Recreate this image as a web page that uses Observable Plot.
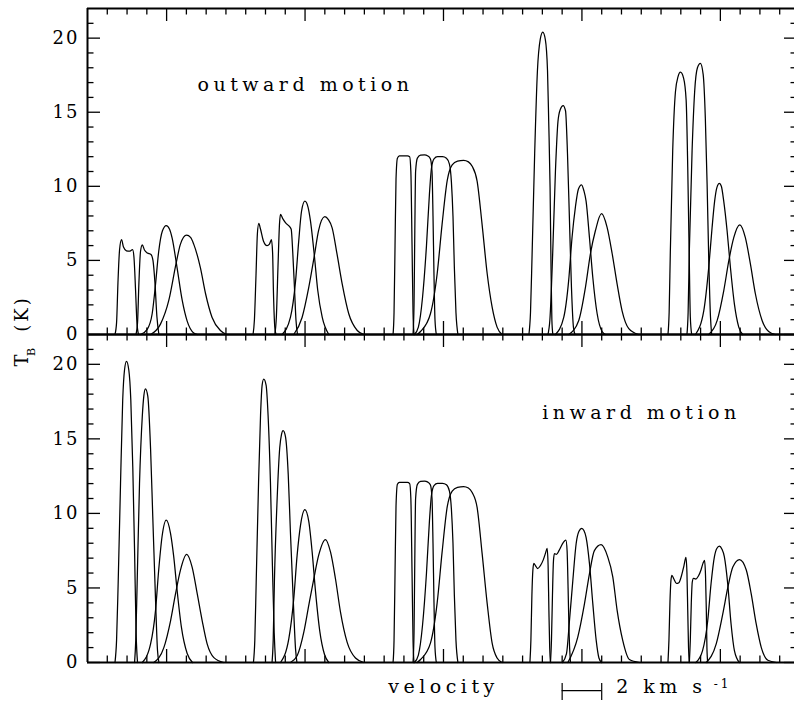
<!DOCTYPE html>
<html><head><meta charset="utf-8">
<script src="https://cdn.jsdelivr.net/npm/d3@7"></script>
<script src="https://cdn.jsdelivr.net/npm/@observablehq/plot@0.6"></script>
<style>
body{margin:0;background:#fff;}
#wrap{position:relative;width:794px;height:704px;}
#wrap svg{position:absolute;left:0;top:0;}
#wrap svg .ticklab text{letter-spacing:2px;}
#wrap svg .ylab text{letter-spacing:3px;}
</style></head><body><div id="wrap"></div>
<script>
// ---- data: velocity (km/s from left edge of the frame), T_B (K) ----
const outward1 = [
 [[1.39,0],[1.47,0.8],[1.54,3.5],[1.62,5.7],[1.72,6.4],[1.82,5.9],[1.97,5.65],[2.12,5.62],[2.28,5.72],[2.35,5.2],[2.43,3.0],[2.50,0.8],[2.58,0]],
 [[2.45,0],[2.53,0.8],[2.60,3.5],[2.68,5.6],[2.77,6.05],[2.88,5.7],[3.03,5.5],[3.21,5.4],[3.31,5.0],[3.41,3.5],[3.51,1.2],[3.61,0]],
 [[2.68,0],[3.02,0.35],[3.27,1.4],[3.44,3.4],[3.60,5.6],[3.79,7.0],[3.98,7.35],[4.15,7.1],[4.28,6.5],[4.53,4.5],[4.79,2.3],[5.04,0.9],[5.37,0.1],[5.56,0]],
 [[3.19,0],[3.69,0.7],[4.11,2.3],[4.48,4.8],[4.70,6.1],[5.01,6.7],[5.21,6.55],[5.37,6.1],[5.71,4.5],[5.97,2.75],[6.30,1.15],[6.72,0.27],[7.03,0]]
];
const outward2 = [
 [[8.37,0],[8.44,1],[8.52,4],[8.59,6.8],[8.66,7.5],[8.75,7.1],[8.90,6.3],[9.08,6.0],[9.20,6.1],[9.30,6.4],[9.36,5.5],[9.40,3],[9.47,0.5],[9.53,0]],
 [[9.47,0],[9.55,1.2],[9.63,4.5],[9.71,7.5],[9.76,8.1],[9.88,7.8],[10.04,7.5],[10.17,7.35],[10.30,7.1],[10.38,5.5],[10.47,3],[10.54,1],[10.62,0]],
 [[9.84,0],[10.26,1.15],[10.52,3.6],[10.68,6.3],[10.82,8.3],[10.99,9.0],[11.15,8.6],[11.27,7.7],[11.48,5.2],[11.64,3.0],[11.87,1.15],[12.20,0]],
 [[10.43,0],[10.85,1.15],[11.19,3.2],[11.48,5.4],[11.68,7.0],[12.00,7.95],[12.18,7.75],[12.37,7.2],[12.62,5.4],[12.88,3.4],[13.21,1.4],[13.64,0.27],[13.97,0]]
];
const outward3 = [
 [[15.45,0],[15.50,1.5],[15.55,6],[15.60,10.5],[15.67,11.9],[15.77,12.05],[15.98,12.05],[16.18,12.05],[16.29,12.0],[16.35,11],[16.41,6],[16.46,1.5],[16.51,0]],
 [[16.46,0],[16.51,2],[16.55,7],[16.59,11],[16.68,11.9],[16.84,12.1],[17.04,12.12],[17.21,12.05],[17.34,11.85],[17.42,11.0],[17.47,8],[17.52,4],[17.57,1],[17.64,0]],
 [[16.53,0],[16.73,0.5],[16.94,2.5],[17.14,6],[17.29,9.5],[17.39,11.2],[17.52,11.85],[17.70,12.0],[17.95,12.0],[18.15,11.9],[18.30,11.5],[18.40,10.3],[18.48,8],[18.55,4.5],[18.63,1.5],[18.73,0]],
 [[16.67,0],[16.84,0.2],[17.34,1.4],[17.68,4.1],[17.93,7.45],[18.19,10.4],[18.44,11.45],[18.71,11.7],[19.02,11.75],[19.26,11.65],[19.45,11.35],[19.70,10.35],[19.95,7.45],[20.21,4.1],[20.46,1.85],[20.71,0.5],[20.96,0]]
];
const outward4 = [
 [[22.32,0],[22.40,1.5],[22.48,5.4],[22.61,12.2],[22.75,17.8],[22.89,19.9],[23.02,20.4],[23.15,19.9],[23.26,17.8],[23.32,14.4],[23.39,9.9],[23.44,4.3],[23.48,1],[23.53,0]],
 [[23.28,0],[23.38,1],[23.52,5.4],[23.66,11.0],[23.79,14.4],[23.91,15.2],[24.05,15.45],[24.17,15.1],[24.27,12.2],[24.37,7.7],[24.47,3.2],[24.57,0.5],[24.65,0]],
 [[23.66,0],[24.08,1.15],[24.33,3.65],[24.50,6.55],[24.67,8.6],[24.82,9.8],[24.98,10.1],[25.10,9.7],[25.21,9.0],[25.38,6.55],[25.55,3.85],[25.77,1.4],[26.02,0.2],[26.19,0]],
 [[24.33,0],[24.84,0.95],[25.18,3.2],[25.43,5.45],[25.68,7.0],[25.99,8.15],[26.27,7.25],[26.53,5.45],[26.78,3.4],[27.03,1.6],[27.37,0.4],[27.87,0]]
];
const outward5 = [
 [[29.35,0],[29.41,1.5],[29.47,5.6],[29.59,12.4],[29.73,16.4],[29.86,17.4],[29.98,17.7],[30.14,17.3],[30.27,15.8],[30.35,11.3],[30.42,5.7],[30.48,1.2],[30.55,0]],
 [[30.31,0],[30.37,1.5],[30.43,5.6],[30.57,12.4],[30.70,16.4],[30.84,18.0],[30.99,18.3],[31.13,17.55],[31.24,14.6],[31.33,10.1],[31.41,5.2],[31.50,1.2],[31.56,0]],
 [[30.74,0],[31.16,1.6],[31.41,4.5],[31.58,7.2],[31.71,9.0],[31.82,9.9],[31.95,10.2],[32.05,10.0],[32.17,9.0],[32.34,7.0],[32.51,4.5],[32.71,2.05],[32.93,0.5],[33.13,0]],
 [[31.41,0],[31.84,0.95],[32.17,2.95],[32.43,5.0],[32.68,6.55],[32.98,7.4],[33.26,6.55],[33.52,4.75],[33.77,2.75],[34.11,0.95],[34.44,0.2],[34.78,0]]
];
const inward1 = [
 [[1.39,0],[1.47,1.5],[1.55,5.3],[1.67,12.0],[1.78,17.6],[1.87,19.6],[1.97,20.2],[2.09,19.6],[2.19,17.6],[2.29,13.1],[2.38,7.5],[2.46,1.9],[2.53,0]],
 [[2.38,0],[2.44,1.5],[2.51,5.3],[2.63,12.0],[2.77,16.5],[2.85,17.9],[2.93,18.35],[3.05,17.85],[3.19,14.3],[3.30,9.8],[3.44,4.2],[3.54,0.8],[3.61,0]],
 [[2.77,0],[3.19,1.25],[3.44,3.5],[3.60,6.2],[3.77,8.45],[3.98,9.55],[4.20,8.65],[4.36,7.1],[4.53,4.85],[4.75,2.35],[5.04,0.6],[5.31,0]],
 [[3.35,0],[3.86,1.0],[4.20,2.8],[4.45,4.6],[4.70,6.2],[5.01,7.25],[5.29,6.4],[5.55,4.6],[5.80,2.8],[6.05,1.25],[6.39,0.33],[6.89,0]]
];
const inward2 = [
 [[8.39,0],[8.46,1.5],[8.53,5.4],[8.65,12.1],[8.75,16.6],[8.83,18.6],[8.91,19.0],[9.03,18.6],[9.13,16.6],[9.25,12.1],[9.35,6.5],[9.44,2.0],[9.51,0]],
 [[9.33,0],[9.39,1.5],[9.45,5.4],[9.59,11.0],[9.72,14.4],[9.81,15.3],[9.89,15.55],[10.01,15.15],[10.15,12.6],[10.26,8.75],[10.40,4.3],[10.52,0.9],[10.59,0]],
 [[9.76,0],[10.18,1.6],[10.43,4.3],[10.60,7.2],[10.77,9.2],[10.99,10.25],[11.19,9.45],[11.36,7.4],[11.53,4.75],[11.75,2.05],[11.98,0.55],[12.20,0]],
 [[10.26,0],[10.60,0.45],[10.94,2.05],[11.19,3.85],[11.44,5.6],[11.69,7.2],[12.03,8.25],[12.29,7.4],[12.54,5.6],[12.79,3.4],[13.13,1.35],[13.55,0.3],[13.97,0]]
];
const inward3 = [
 [[15.45,0],[15.50,1.5],[15.55,6],[15.60,10.5],[15.67,11.95],[15.77,12.08],[15.98,12.08],[16.18,12.08],[16.29,12.0],[16.35,11],[16.41,6],[16.46,1.5],[16.51,0]],
 [[16.46,0],[16.51,2],[16.55,7],[16.59,11],[16.68,11.95],[16.84,12.15],[17.04,12.17],[17.21,12.1],[17.34,11.9],[17.42,11.0],[17.47,8],[17.52,4],[17.57,1],[17.64,0]],
 [[16.53,0],[16.73,0.5],[16.94,2.5],[17.14,6],[17.29,9.5],[17.39,11.2],[17.52,11.87],[17.70,12.02],[17.95,12.02],[18.15,11.92],[18.30,11.5],[18.40,10.3],[18.48,8],[18.55,4.5],[18.63,1.5],[18.73,0]],
 [[16.67,0],[16.84,0.2],[17.34,1.3],[17.68,4.0],[17.93,7.4],[18.19,10.45],[18.44,11.5],[18.71,11.75],[19.02,11.8],[19.26,11.7],[19.45,11.4],[19.70,10.4],[19.95,7.35],[20.21,3.95],[20.46,1.3],[20.71,0.3],[20.96,0]]
];
const inward4 = [
 [[22.37,0],[22.42,1.5],[22.47,4.5],[22.52,6.2],[22.57,6.65],[22.65,6.5],[22.76,6.3],[22.90,6.5],[23.05,6.9],[23.15,7.3],[23.24,7.65],[23.29,6.5],[23.33,3.5],[23.37,1],[23.41,0]],
 [[23.41,0],[23.46,1.5],[23.51,4.5],[23.56,6.8],[23.61,7.3],[23.71,7.25],[23.84,7.5],[23.99,7.9],[24.12,8.15],[24.19,8.2],[24.25,7.5],[24.30,5],[24.35,2],[24.42,0]],
 [[24.01,0],[24.22,0.6],[24.37,2.8],[24.54,5.5],[24.71,8.0],[24.85,8.8],[24.99,9.0],[25.10,8.85],[25.21,8.4],[25.38,6.65],[25.55,3.95],[25.72,1.5],[25.86,0.3],[25.99,0]],
 [[24.29,0],[24.79,1.7],[25.13,3.95],[25.38,5.95],[25.63,7.5],[25.97,7.9],[26.30,7.1],[26.56,5.75],[26.78,3.5],[27.06,1.5],[27.40,0.2],[27.91,0]]
];
const inward5 = [
 [[29.35,0],[29.40,1.5],[29.45,4],[29.50,5.5],[29.55,5.85],[29.65,5.6],[29.78,5.3],[29.90,5.35],[30.03,5.8],[30.16,6.5],[30.26,7.05],[30.31,6.0],[30.35,3.5],[30.39,1],[30.43,0]],
 [[30.43,0],[30.48,1.5],[30.53,4],[30.58,5.4],[30.64,5.65],[30.76,5.6],[30.89,5.8],[31.02,6.2],[31.12,6.65],[31.20,6.85],[31.25,5.8],[31.29,3.5],[31.32,1],[31.36,0]],
 [[30.76,0],[31.10,0.8],[31.36,2.8],[31.53,5.3],[31.70,7.1],[31.82,7.65],[31.95,7.8],[32.08,7.6],[32.20,7.1],[32.37,5.3],[32.54,2.6],[32.71,0.8],[32.96,0]],
 [[31.28,0],[31.79,1.25],[32.12,3.25],[32.38,5.05],[32.63,6.4],[32.97,6.9],[33.31,6.2],[33.56,4.6],[33.81,2.6],[34.07,1.0],[34.40,0.15],[34.84,0]]
];

// ---- ticks and labels ----
const yTickLabels = [0, 5, 10, 15, 20];
const yMinorTicks = [1,2,3,4,6,7,8,9,11,12,13,14,16,17,18,19,21];
const xMajorTicks = [4, 11, 18, 25, 32];
const xMinorTicks = [1,2,3,5,6,7,8,9,10,12,13,14,15,16,17,19,20,21,22,23,24,26,27,28,29,30,31,33,34,35];
const outwardLabel = [{text: "outward motion", v: 5.56, T: 16.83}];
const inwardLabel = [{text: "inward motion", v: 22.99, T: 16.75}];
const axisTitle = [{text: "velocity", v: 18, T: -1.67}];
const scaleBar = [24, 26];
const scaleText = [{text: "2 km s", v: 26.73, T: -1.67}];
const scaleExp = [{text: "-1", v: 32.56, T: -1.45}];
const yTitleMain = [{text: "T", v: -3.31, T: -1.65}, {text: "(K)", v: -3.29, T: 1.42}];
const yTitleSub = [{text: "B", v: -2.83, T: -1.08}];

// ---- layout ----
const W = 794, H = 704, ML = 87, MR = -3, XMAX = 35.9, YMAX = 22;
const FONT = '"DejaVu Serif", "Liberation Serif", serif';

function base(top, bottom, marks) {
  return Plot.plot({
    width: W, height: H,
    marginLeft: ML, marginRight: MR, marginTop: top, marginBottom: H - bottom,
    x: {domain: [0, XMAX], axis: null},
    y: {domain: [0, YMAX], axis: null},
    style: {background: "transparent", fontFamily: FONT, overflow: "visible", letterSpacing: "4.5px", color: "black"},
    marks
  });
}

function dataPanel(groups, top, bottom) {
  const rows = [];
  groups.forEach((g, gi) => g.forEach((c, ci) => c.forEach(([v, T]) => rows.push({id: gi * 4 + ci, v, T}))));
  return base(top, bottom, [
    Plot.line(rows, {x: "v", y: "T", z: "id", curve: "monotone-x", stroke: "black", strokeWidth: 1.25})
  ]);
}

function framePanel(top, bottom, extra) {
  const kPerPx = YMAX / (bottom - top);
  const vPerPx = XMAX / (W - MR - ML);
  const minY = 6.5 * kPerPx, majY = 13 * kPerPx;
  const minX = 6.5 * vPerPx, majX = 13 * vPerPx;
  const tk = {stroke: "black", strokeWidth: 1.3};
  return base(top, bottom, [
    Plot.ruleX(xMinorTicks, {x: d => d, y1: () => 0, y2: () => minY, ...tk}),
    Plot.ruleX(xMajorTicks, {x: d => d, y1: () => 0, y2: () => majY, ...tk}),
    Plot.ruleX(xMinorTicks, {x: d => d, y1: () => YMAX, y2: () => YMAX - minY, ...tk}),
    Plot.ruleX(xMajorTicks, {x: d => d, y1: () => YMAX, y2: () => YMAX - majY, ...tk}),
    Plot.ruleY(yMinorTicks, {y: d => d, x1: () => 0, x2: () => minX, ...tk}),
    Plot.ruleY(yTickLabels, {y: d => d, x1: () => 0, x2: () => majX, ...tk}),
    Plot.ruleY(yMinorTicks, {y: d => d, x1: () => XMAX, x2: () => XMAX - minX, ...tk}),
    Plot.ruleY(yTickLabels, {y: d => d, x1: () => XMAX, x2: () => XMAX - majX, ...tk}),
    Plot.ruleY([0, YMAX], {stroke: "black", strokeWidth: 2}),
    Plot.ruleX([0, XMAX], {stroke: "black", strokeWidth: 2}),
    Plot.text(yTickLabels, {x: () => 0, y: d => d, text: d => String(d), textAnchor: "end", dx: -8, fontSize: 18, fill: "black", className: "ticklab"}),
    ...extra
  ]);
}

const topData = dataPanel([outward1, outward2, outward3, outward4, outward5], 8, 334);
const botData = dataPanel([inward1, inward2, inward3, inward4, inward5], 334, 662);
const topFrame = framePanel(8, 334, [
  Plot.text(outwardLabel, {x: "v", y: "T", text: "text", textAnchor: "start", fontSize: 19, fill: "black"}),
  Plot.text(yTitleMain, {x: "v", y: "T", text: "text", rotate: -90, textAnchor: "middle", fontSize: 18, fill: "black", className: "ylab"}),
  Plot.text(yTitleSub, {x: "v", y: "T", text: "text", rotate: -90, textAnchor: "middle", fontSize: 11, fill: "black", className: "ylab"})
]);
const botFrame = framePanel(334, 662, [
  Plot.text(inwardLabel, {x: "v", y: "T", text: "text", textAnchor: "start", fontSize: 19, fill: "black"}),
  Plot.text(axisTitle, {x: "v", y: "T", text: "text", textAnchor: "middle", fontSize: 19, fill: "black"}),
  Plot.text(scaleText, {x: "v", y: "T", text: "text", textAnchor: "start", fontSize: 19, fill: "black"}),
  Plot.text(scaleExp, {x: "v", y: "T", text: "text", textAnchor: "end", fontSize: 12, fill: "black", className: "ylab"}),
  Plot.ruleY([-1.88], {x1: () => scaleBar[0], x2: () => scaleBar[1], stroke: "black", strokeWidth: 1.2}),
  Plot.ruleX(scaleBar, {x: d => d, y1: () => -1.41, y2: () => -2.55, stroke: "black", strokeWidth: 1.2})
]);

const wrap = document.getElementById("wrap");
wrap.appendChild(topData);
wrap.appendChild(botData);
wrap.appendChild(topFrame);
wrap.appendChild(botFrame);
</script></body></html>
